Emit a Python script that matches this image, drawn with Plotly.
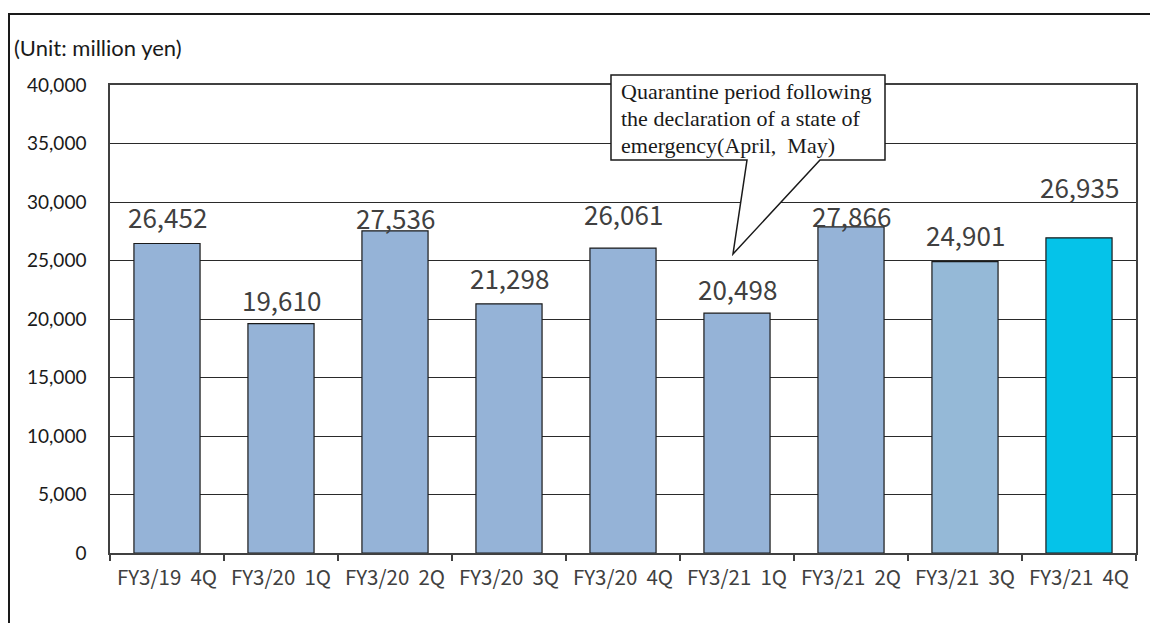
import plotly.graph_objects as go

# Quarterly net sales (million yen)
quarters = ["FY3/19\u00a0\u00a04Q", "FY3/20\u00a0\u00a01Q", "FY3/20\u00a0\u00a02Q", "FY3/20\u00a0\u00a03Q",
            "FY3/20\u00a0\u00a04Q", "FY3/21\u00a0\u00a01Q", "FY3/21\u00a0\u00a02Q", "FY3/21\u00a0\u00a03Q",
            "FY3/21\u00a0\u00a04Q"]
sales = [26452, 19610, 27536, 21298, 26061, 20498, 27866, 24901, 26935]
bar_colors = ["#95B3D7", "#95B3D7", "#95B3D7", "#95B3D7", "#95B3D7",
              "#95B3D7", "#95B3D7", "#95B9D7", "#05C3E9"]
# vertical gap (px) between each bar top and its value label
label_gap = [27, 24, 13, 26, 35, 25, 11, 27, 51]
y_ticks = [0, 5000, 10000, 15000, 20000, 25000, 30000, 35000, 40000]
callout_lines = ["Quarantine period following",
                 "the declaration of a state of",
                 "emergency(April,\u00a0 May)"]

W, H = 1150, 623
ML, MR, MT, MB = 110, 14, 85, 70
PW, PH = W - ML - MR, H - MT - MB


def px(x):
    return (x - ML) / PW


def py(y):
    return (H - MB - y) / PH


fig = go.Figure()
fig.add_trace(go.Bar(
    x=quarters, y=sales,
    marker=dict(color=bar_colors, line=dict(color="#1a1a1a", width=1.2)),
    width=0.58,
    hoverinfo="x+y",
))

for q, v, g in zip(quarters, sales, label_gap):
    fig.add_annotation(
        x=q, y=v, text=f"{v:,}", showarrow=False,
        yanchor="middle", yshift=g,
        font=dict(family="Noto Sans CJK JP", size=26, color="#404040"),
    )

# callout box with pointer
cb = [(611, 75), (885, 75), (885, 160), (820, 160), (733, 254), (747, 160), (611, 160)]
path = "M " + " L ".join(f"{px(a):.5f},{py(b):.5f}" for a, b in cb) + " Z"
fig.add_shape(type="path", xref="paper", yref="paper", path=path,
              fillcolor="white", line=dict(color="#1a1a1a", width=1.5), layer="above")
for i, line in enumerate(callout_lines):
    fig.add_annotation(
        xref="paper", yref="paper", x=px(619), y=py(92 + 26.5 * i),
        xanchor="left", yanchor="middle", align="left", showarrow=False,
        text=line,
        font=dict(family="Liberation Serif", size=22, color="#1a1a1a"),
    )

fig.add_annotation(
    xref="paper", yref="paper", x=px(12), y=py(47), xanchor="left", yanchor="middle",
    showarrow=False, text="(Unit: million yen)",
    font=dict(family="Lato", size=22, color="#1a1a1a"),
)

# outer frame
fig.add_shape(type="path", xref="paper", yref="paper",
              path=f"M {px(9)},{py(700)} L {px(9)},{py(14)} L {px(1200)},{py(14)}",
              line=dict(color="#1a1a1a", width=2))

fig.update_layout(
    width=W, height=H,
    margin=dict(l=ML, r=MR, t=MT, b=MB),
    paper_bgcolor="white", plot_bgcolor="white",
    showlegend=False,
    bargap=0.42,
)
fig.update_xaxes(
    type="category",
    showline=True, linecolor="#404040", linewidth=1.5, mirror=True,
    ticks="outside", tickson="boundaries", ticklen=6, tickcolor="#404040", tickwidth=1.5,
    ticklabelstandoff=6,
    tickfont=dict(family="Noto Sans CJK JP", size=20.5, color="#404040"),
    showgrid=False,
)
fig.update_yaxes(
    range=[0, 40000], tickvals=y_ticks, ticktext=[f"{t:,}" for t in y_ticks],
    showline=True, linecolor="#404040", linewidth=1.5, mirror=True,
    showgrid=True, gridcolor="#2a2a2a", gridwidth=1,
    ticks="", ticklabelstandoff=18,
    tickfont=dict(family="Lato", size=19, color="#1a1a1a"),
    zeroline=False,
)

fig.write_html("out.html")
